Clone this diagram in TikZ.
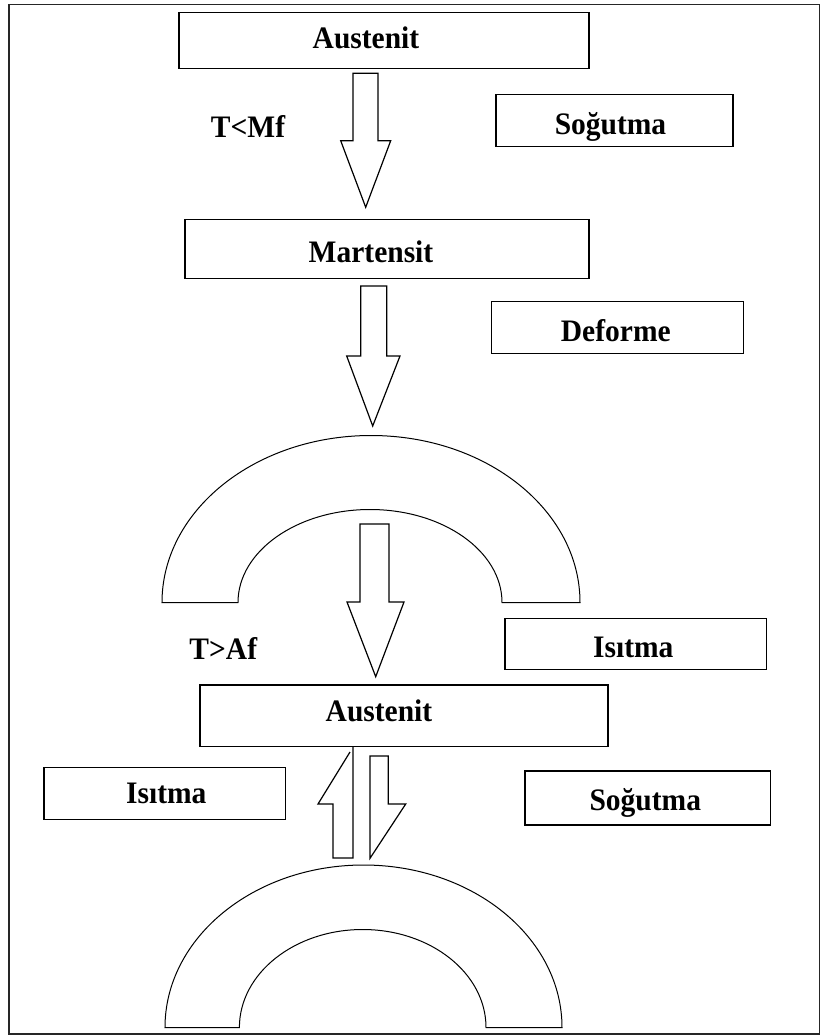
\documentclass[tikz,border=0pt]{standalone}
\usepackage{fontspec}
\setmainfont{Liberation Serif}
\begin{document}
\begin{tikzpicture}[x=1pt,y=-1pt,
  box/.style={draw=black, line width=1.3pt, rectangle, inner sep=0pt, outer sep=0pt},
  lbl/.style={anchor=base, inner sep=0pt, font=\fontsize{29.5}{32}\selectfont\bfseries},
  blk/.style={draw=black, line width=1.2pt, line join=miter, fill=white},
  arch/.style={draw=black, line width=1pt}]
\useasboundingbox (0,0) rectangle (822,1036);
\fill[white] (0,0) rectangle (822,1036);
% frame
\draw[line width=1.6pt, black!85] (9,4.5) rectangle (819.3,1034);

% boxes
\node[box, minimum width=410pt, minimum height=56pt] (aust1) at (384,40.3) {};
\node[box, minimum width=237pt, minimum height=52pt] (sog1) at (614.6,120.7) {};
\node[box, minimum width=404pt, minimum height=59pt] (mart) at (387,249) {};
\node[box, minimum width=251.6pt, minimum height=51.6pt] (def) at (617.5,327.5) {};
\node[box, minimum width=261.7pt, minimum height=51pt] (isi1) at (635.8,644) {};
\node[box, minimum width=408pt, minimum height=61.7pt] (aust2) at (404,715.8) {};
\node[box, minimum width=241.7pt, minimum height=52pt] (isi2) at (164.8,793.3) {};
\node[box, minimum width=245.7pt, minimum height=54pt] (sog2) at (647.8,798) {};

% labels
\node[lbl] (taust1) at (366,48.3) {\scalebox{1}[1.06]{Austenit}};
\node[lbl] (tsog1) at (610.5,134) {\scalebox{1}[1.06]{Soğutma}};
\node[lbl] (tmf) at (248,137.3) {\scalebox{1}[1.06]{T<Mf}};
\node[lbl] (tmart) at (371,262.3) {\scalebox{1}[1.06]{Martensit}};
\node[lbl] (tdef) at (615.8,341.7) {\scalebox{1}[1.06]{Deforme}};
\node[lbl] (taf) at (223.3,659.3) {\scalebox{1}[1.06]{T>Af}};
\node[lbl] (tisi1) at (633.3,657.3) {\scalebox{1}[1.06]{Isıtma}};
\node[lbl] (taust2) at (379,721) {\scalebox{1}[1.06]{Austenit}};
\node[lbl] (tisi2) at (166.3,803.3) {\scalebox{1}[1.06]{Isıtma}};
\node[lbl] (tsog2) at (645.3,810.7) {\scalebox{1}[1.06]{Soğutma}};

% block arrows
\draw[blk] (353,73.3) -- (378,73.3) -- (378,140.7) -- (390.7,140.7) -- (365.7,207.3)
  -- (340.7,140.7) -- (353,140.7) -- cycle;
\draw[blk] (360.7,286) -- (386.7,286) -- (386.7,356) -- (400,356) -- (372.7,426)
  -- (346.7,356) -- (360.7,356) -- cycle;

% first arch
\draw[arch] (162,602.5) arc[start angle=180, end angle=360, x radius=209, y radius=167]
  -- (502,602.5) arc[start angle=360, end angle=180, x radius=132, y radius=93] -- cycle;

\draw[blk] (360,524) -- (389,524) -- (389,602) -- (404,602) -- (375.7,676.7)
  -- (347,602) -- (360,602) -- cycle;

% half arrows
\draw[blk, fill=none] (350,752) -- (318,804) -- (333,804) -- (333,858) -- (353,858) -- (353,746.7);
\draw[blk] (370,756) -- (388.3,756) -- (388.3,804) -- (405.7,804) -- (370,858.3) -- cycle;

% second arch
\draw[arch] (165,1027.5) arc[start angle=180, end angle=360, x radius=198.5, y radius=162.5]
  -- (486,1027.5) arc[start angle=360, end angle=180, x radius=123.3, y radius=98] -- cycle;
\end{tikzpicture}
\end{document}
